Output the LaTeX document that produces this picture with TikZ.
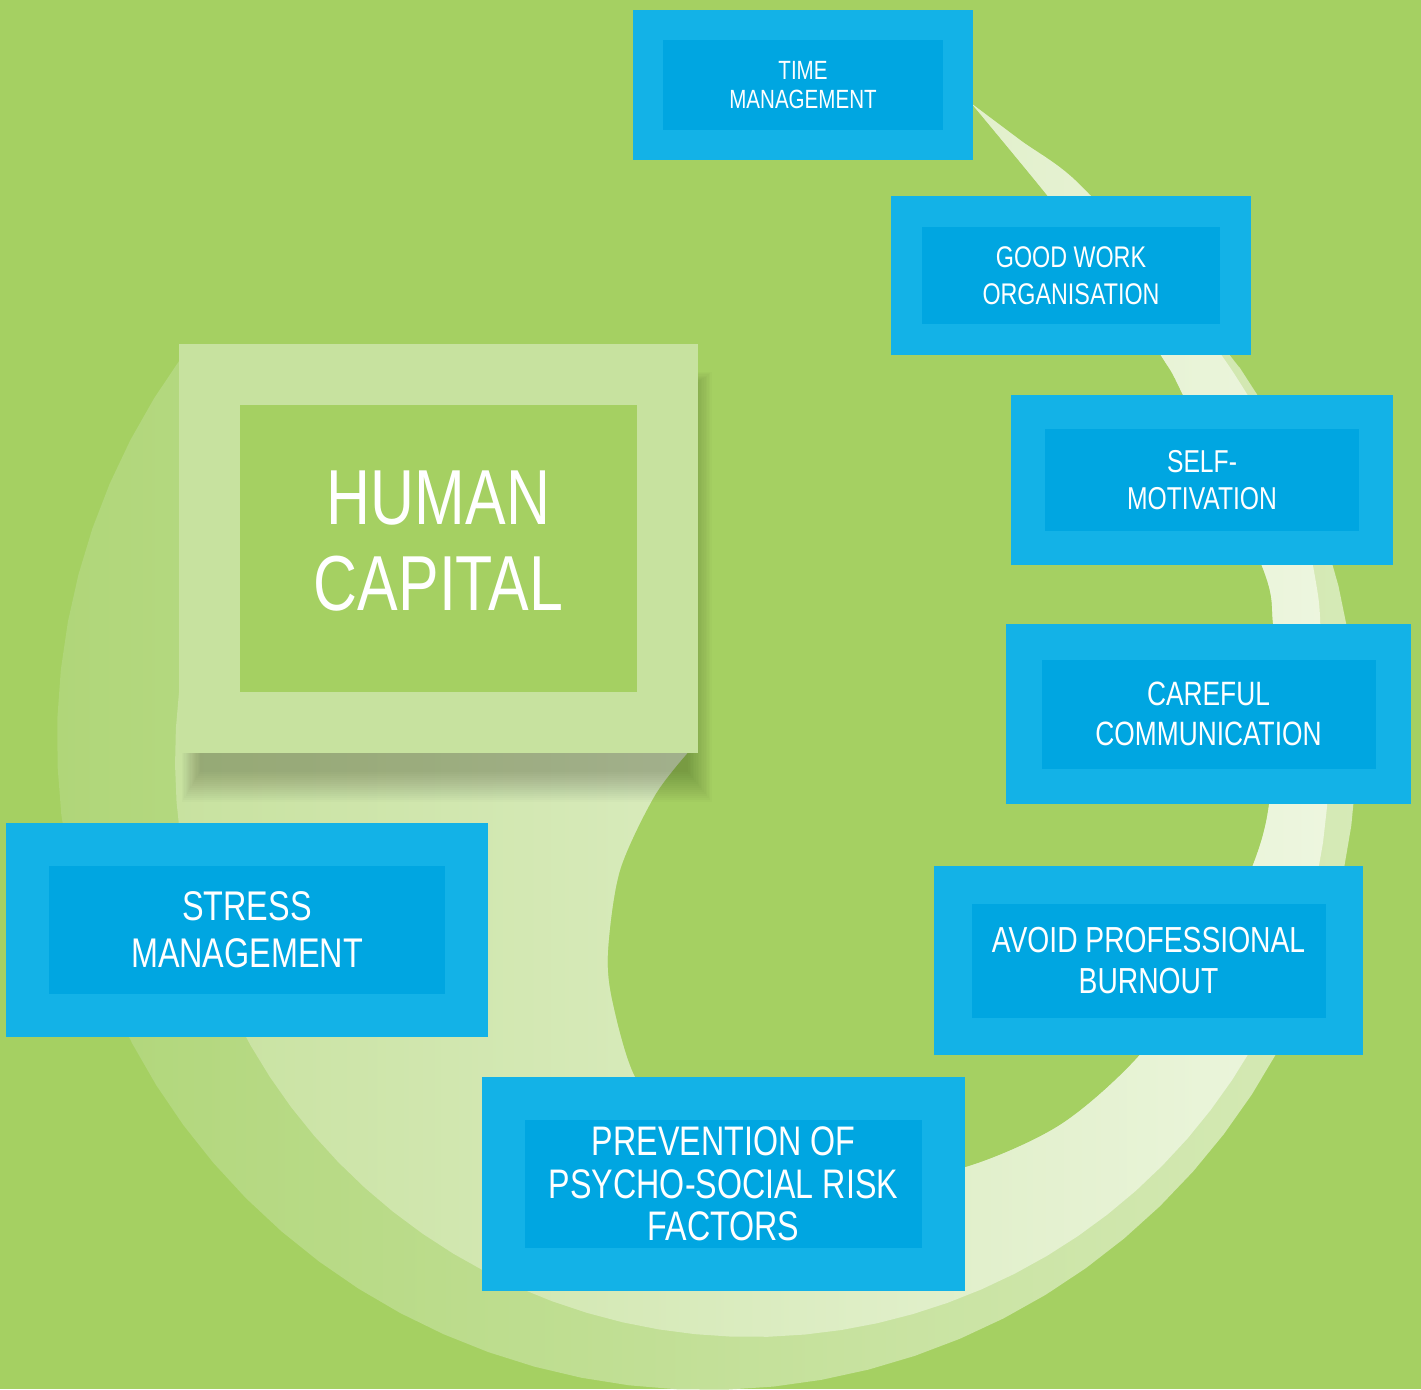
\documentclass[tikz,border=0pt]{standalone}
\usepackage{fontspec}
\newfontfamily\condfont{Liberation Sans}[FakeStretch=0.78]
\usepackage{xcolor}
\usepackage{tikz}
\definecolor{meadow}{RGB}{165,208,98}
\definecolor{paleleaf}{RGB}{199,226,159}
\definecolor{skyframe}{RGB}{19,178,231}
\definecolor{skyfill}{RGB}{0,166,225}
\definecolor{faintL}{RGB}{176,214,121}
\definecolor{faintR}{RGB}{214,234,183}
\definecolor{brightL}{RGB}{200,226,160}
\definecolor{brightR}{RGB}{237,246,223}
\newcommand\boxfont[2]{\condfont\fontsize{#1}{#2}\selectfont}

\begin{document}
\begin{tikzpicture}[x=0.1mm, y=-0.1mm,
  topic/.style={fill=skyfill, draw=skyframe, text=white, align=center, inner sep=0pt},
  core/.style={fill=meadow, draw=paleleaf, text=white, align=center, inner sep=0pt}]
  \useasboundingbox (0,0) rectangle (1421,1389);
  \fill[meadow] (0,0) rectangle (1421,1389);
  \def\hole{(972,104) (1047,195) (1105,270) (1162,357) (1183,395) (1262,566) (1273,623) (1276,700)
    (1269,805) (1253,865) (1210,960) (1138,1057) (1060,1125) (966,1167) (860,1185) (760,1170)
    (680,1125) (635,1077) (612,1000) (608,950) (620,870) (655,795) (690,750)}
  \shade[left color=faintL, right color=faintR]
    plot[domain=216:-35, samples=60] ({707+650*cos(\x)}, {740+650*sin(\x)})
    -- plot[smooth] coordinates {(1239,367) (1165,275) (1090,195) (1020,140) (972,104)}
    -- plot[smooth] coordinates {\hole} -- cycle;
  \shade[left color=brightL, right color=brightR]
    plot[domain=205:-10, samples=60] ({752+577*cos(\x)}, {760+577*sin(\x)})
    -- plot[smooth] coordinates {(1320,660) (1318,595) (1292,480) (1235,375) (1155,268) (1075,180)
      (1020,140) (972,104)}
    -- plot[smooth] coordinates {\hole} -- cycle;
  \foreach \s in {0,2,...,30}
    \fill[black, opacity=0.014] (200-0.6*\s,390-0.6*\s) rectangle (688+0.8*\s,772+\s);

  \node[core, minimum width=45.8mm, minimum height=34.8mm, line width=6.1mm, text depth=1.6mm,
    font={\boxfont{22.2}{24.5}}] (capital) at (438.5,548.5) {HUMAN\\CAPITAL};
  \node[topic, minimum width=31mm, minimum height=12.05mm, line width=3mm,
    font={\boxfont{7.5}{8.5}}] (time) at (803,85) {TIME\\MANAGEMENT};
  \node[topic, minimum width=32.85mm, minimum height=12.8mm, line width=3.1mm,
    font={\boxfont{8.5}{10.5}}] (work) at (1071,275.5) {GOOD WORK\\ORGANISATION};
  \node[topic, minimum width=34.85mm, minimum height=13.6mm, line width=3.4mm,
    font={\boxfont{9}{10.5}}] (self) at (1202,480) {SELF-\\MOTIVATION};
  \node[topic, minimum width=36.95mm, minimum height=14.45mm, line width=3.55mm,
    font={\boxfont{9.6}{11.4}}] (comm) at (1208.5,714) {CAREFUL\\COMMUNICATION};
  \node[topic, minimum width=39.15mm, minimum height=15.15mm, line width=3.75mm,
    font={\boxfont{10.3}{11.4}}] (burnout) at (1148.5,960.5) {AVOID PROFESSIONAL\\BURNOUT};
  \node[topic, minimum width=43.95mm, minimum height=17.1mm, line width=4.3mm,
    font={\boxfont{11.75}{12.1}}] (risk) at (723.5,1184) {PREVENTION OF\\PSYCHO-SOCIAL RISK\\FACTORS};
  \node[topic, minimum width=43.9mm, minimum height=17.15mm, line width=4.3mm,
    font={\boxfont{11.8}{13.4}}] (stress) at (247,930) {STRESS\\MANAGEMENT};
\end{tikzpicture}
\end{document}
